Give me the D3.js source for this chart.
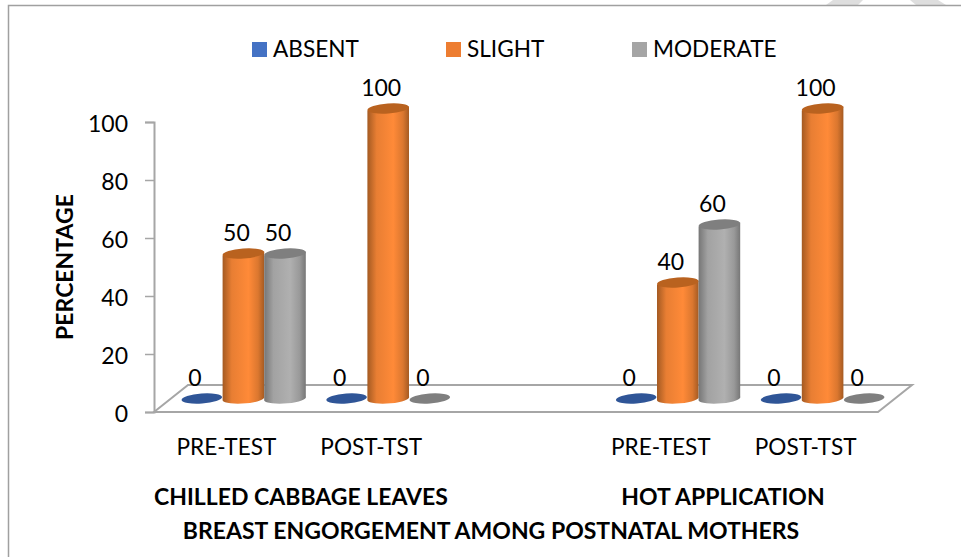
<!DOCTYPE html>
<html>
<head>
<meta charset="utf-8">
<script src="https://cdn.jsdelivr.net/npm/d3@7"></script>
<style>
  html, body { margin: 0; padding: 0; background: #fff; }
  svg { display: block; }
  text { font-family: Lato, "Open Sans", sans-serif; fill: #000; }
  .axis text { font-size: 23px; }
  .cat-axis text { font-size: 22.6px; }
  .legend-label { font-size: 22.6px; }
  .value-label { font-size: 23px; text-anchor: middle; }
  .bold-label { font-size: 23px; font-weight: 700; }
</style>
</head>
<body>
<div id="chart"></div>
<script>
const WIDTH = 961;
const HEIGHT = 557;

// data
const CATEGORIES = ["PRE-TEST", "POST-TST", "", "PRE-TEST", "POST-TST"];
const SERIES = ["ABSENT", "SLIGHT", "MODERATE"];
const ABSENT = [0, 0, null, 0, 0];
const SLIGHT = [50, 100, null, 40, 100];
const MODERATE = [50, 0, null, 60, 0];
const Y_TICKS = [0, 20, 40, 60, 80, 100];

const SERIES_VALUES = [ABSENT, SLIGHT, MODERATE];
const LEGEND_X = [252, 446, 632];

// colours per series
const COLORS = {
  ABSENT: { key: "#4472c4", top: "#2f5597", edge: "#2f5597", mid: "#4472c4" },
  SLIGHT: { key: "#ed7d31", top: "#b9621f", edge: "#a45a22", mid: "#ff8a38" },
  MODERATE: { key: "#a5a5a5", top: "#7f7f7f", edge: "#767676", mid: "#b0b0b0" },
};

const svg = d3.select("#chart").append("svg").attr("width", WIDTH).attr("height", HEIGHT);
const defs = svg.append("defs");

SERIES.forEach((name) => {
  const c = COLORS[name];
  const gradient = defs.append("linearGradient").attr("id", `cyl-${name}`);
  [[0, c.edge], [0.22, d3.interpolateRgb(c.edge, c.mid)(0.75)], [0.62, c.mid], [0.85, d3.interpolateRgb(c.edge, c.mid)(0.6)], [1, c.edge]]
    .forEach(([offset, color]) => {
      gradient.append("stop").attr("offset", offset).attr("stop-color", color);
    });
});

// watermark corner
const watermark = [[[833, 0], [863, 0], [858, 5], [826, 5]], [[910, 0], [938, 0], [946, 5], [916, 5]]];
svg.selectAll(".watermark")
  .data(watermark)
  .enter()
  .append("polygon")
  .attr("points", (d) => d.join(" "))
  .attr("fill", "#dedede");

// outer frame
svg.append("path")
  .attr("d", `M8.5,${HEIGHT} V5.5 H${WIDTH}`)
  .attr("fill", "none")
  .attr("stroke", "#a0a0a0")
  .attr("stroke-width", 1.5);

// scales
const floorLeft = 154;
const floorRight = 878;
const floorFront = 412;
const depthX = 34;
const depthY = 27;

const x = d3.scaleBand().domain(d3.range(CATEGORIES.length)).range([floorLeft, floorRight]);
const inner = d3.scaleBand().domain(SERIES).range([10, x.bandwidth() - 10]);
const y = d3.scaleLinear().domain([0, 100]).range([floorFront, 122]);

// floor
svg.append("polygon")
  .attr("points", [
    [floorLeft, floorFront],
    [floorLeft + depthX, floorFront - depthY],
    [floorRight + depthX, floorFront - depthY],
    [floorRight, floorFront],
  ].join(" "))
  .attr("fill", "#fff")
  .attr("stroke", "#a6a6a6")
  .attr("stroke-width", 2);

// axes
const yAxis = svg.append("g")
  .attr("class", "axis")
  .attr("transform", `translate(${floorLeft}, 0)`)
  .call(d3.axisLeft(y).tickValues(Y_TICKS).tickSize(9).tickPadding(17));
yAxis.selectAll("line").attr("stroke", "#a6a6a6").attr("stroke-width", 1.5);
yAxis.select(".domain").attr("stroke", "#a6a6a6").attr("stroke-width", 2);
yAxis.selectAll("text").attr("dy", "0.42em");

const xAxis = svg.append("g")
  .attr("class", "cat-axis")
  .attr("transform", `translate(0, ${floorFront + 24})`)
  .call(d3.axisBottom(x).tickFormat((i) => CATEGORIES[i]).tickSize(0));
xAxis.select(".domain").remove();

// marks
const marks = [];
SERIES.forEach((name, s) => {
  SERIES_VALUES[s].forEach((value, i) => {
    if (value !== null) marks.push({ name, i, value });
  });
});

const shiftX = depthX / 2;
const shiftY = depthY / 2;
const rx = inner.bandwidth() / 2;
const ry = 5;
const tilt = 2;
const centerX = (d) => x(d.i) + inner(d.name) + rx + shiftX;
const topY = (d) => y(d.value) - shiftY;

const plot = svg.append("g");

// zero values are flat discs, drawn under the cylinders
plot.selectAll(".disc")
  .data(marks.filter((d) => d.value === 0))
  .enter()
  .append("ellipse")
  .attr("class", "disc")
  .attr("rx", rx - 0.5)
  .attr("ry", ry)
  .attr("transform", (d) => `translate(${centerX(d)}, ${topY(d)}) rotate(-4)`)
  .attr("fill", (d) => COLORS[d.name].top);

const cylinders = plot.selectAll(".cylinder")
  .data(marks.filter((d) => d.value > 0))
  .enter()
  .append("g")
  .attr("class", "cylinder");

cylinders.append("path")
  .attr("d", (d) => {
    const cx = centerX(d);
    const base = y(0) - shiftY;
    const top = topY(d);
    return `M${cx - rx},${top + tilt} L${cx + rx},${top - tilt} L${cx + rx},${base - tilt} A${rx},${ry} -4 0 1 ${cx - rx},${base + tilt} Z`;
  })
  .attr("fill", (d) => `url(#cyl-${d.name})`);

cylinders.append("ellipse")
  .attr("rx", rx)
  .attr("ry", ry)
  .attr("transform", (d) => `translate(${centerX(d)}, ${topY(d)}) rotate(-4)`)
  .attr("fill", (d) => COLORS[d.name].top);

// value labels
svg.selectAll(".value-label")
  .data(marks)
  .enter()
  .append("text")
  .attr("class", "value-label")
  .attr("x", (d) => centerX(d) - 7)
  .attr("y", (d) => topY(d) - 13)
  .text((d) => d.value);

// legend
const legend = svg.selectAll(".legend")
  .data(SERIES)
  .enter()
  .append("g")
  .attr("class", "legend")
  .attr("transform", (d, i) => `translate(${LEGEND_X[i]}, 42)`);

legend.append("rect")
  .attr("width", 15)
  .attr("height", 15)
  .attr("fill", (d) => COLORS[d].key);

legend.append("text")
  .attr("class", "legend-label")
  .attr("x", 21)
  .attr("y", 15)
  .text((d) => d);

// axis and group labels
svg.append("text")
  .attr("class", "bold-label")
  .attr("text-anchor", "middle")
  .attr("transform", "translate(73, 267) rotate(-90)")
  .text("PERCENTAGE");

svg.append("text")
  .attr("class", "bold-label")
  .attr("text-anchor", "middle")
  .attr("x", 301)
  .attr("y", 505)
  .text("CHILLED CABBAGE LEAVES");

svg.append("text")
  .attr("class", "bold-label")
  .attr("text-anchor", "middle")
  .attr("x", 723)
  .attr("y", 505)
  .text("HOT APPLICATION");

svg.append("text")
  .attr("class", "bold-label")
  .attr("text-anchor", "middle")
  .attr("x", 491)
  .attr("y", 539)
  .text("BREAST ENGORGEMENT AMONG POSTNATAL MOTHERS");
</script>
</body>
</html>
